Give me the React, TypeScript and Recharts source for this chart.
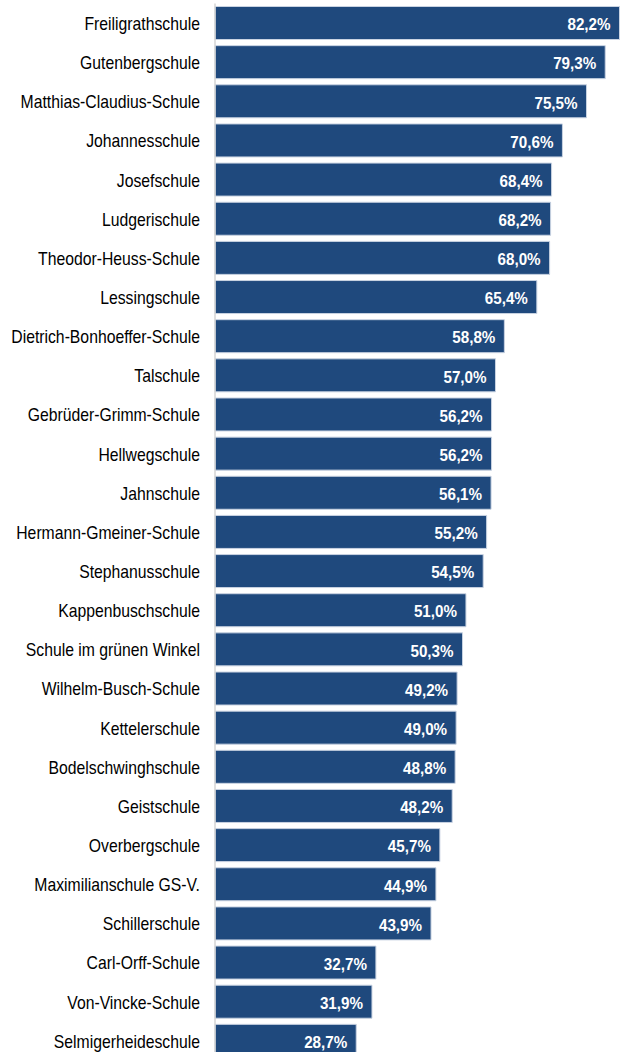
import React from 'react';
import { BarChart, Bar, XAxis, YAxis, LabelList } from 'recharts';

const schools = [
  'Freiligrathschule',
  'Gutenbergschule',
  'Matthias-Claudius-Schule',
  'Johannesschule',
  'Josefschule',
  'Ludgerischule',
  'Theodor-Heuss-Schule',
  'Lessingschule',
  'Dietrich-Bonhoeffer-Schule',
  'Talschule',
  'Gebrüder-Grimm-Schule',
  'Hellwegschule',
  'Jahnschule',
  'Hermann-Gmeiner-Schule',
  'Stephanusschule',
  'Kappenbuschschule',
  'Schule im grünen Winkel',
  'Wilhelm-Busch-Schule',
  'Kettelerschule',
  'Bodelschwinghschule',
  'Geistschule',
  'Overbergschule',
  'Maximilianschule GS-V.',
  'Schillerschule',
  'Carl-Orff-Schule ',
  'Von-Vincke-Schule',
  'Selmigerheideschule',
];

const shares = [
  82.2, 79.3, 75.5, 70.6, 68.4, 68.2, 68.0, 65.4, 58.8, 57.0, 56.2, 56.2, 56.1, 55.2,
  54.5, 51.0, 50.3, 49.2, 49.0, 48.8, 48.2, 45.7, 44.9, 43.9, 32.7, 31.9, 28.7,
];

const data = schools.map((name, i) => ({ name, value: shares[i] }));

const fmt = (v: number) => v.toFixed(1).replace('.', ',') + '%';

const CategoryTick = (props: any) => {
  const { x, y, payload } = props;
  return (
    <text
      x={0}
      y={0}
      transform={`translate(${x},${y + 1}) scale(0.875,1)`}
      textAnchor="end"
      dominantBaseline="central"
      fontSize={18}
      fontFamily="'Liberation Sans', Arial, sans-serif"
      fill="#000"
    >
      {payload.value}
    </text>
  );
};

const ValueLabel = (props: any) => {
  const { x, y, width, height, value } = props;
  return (
    <text
      x={0}
      y={0}
      transform={`translate(${x + width - 9},${y + height / 2 + 1.5}) scale(0.95,1.05)`}
      textAnchor="end"
      dominantBaseline="central"
      fontSize={16}
      fontWeight="bold"
      fontFamily="'Liberation Sans', Arial, sans-serif"
      fill="#ffffff"
    >
      {fmt(value)}
    </text>
  );
};

export default function App() {
  return (
    <div
      style={{
        position: 'absolute',
        left: 0,
        top: 0,
        width: 623,
        height: 1052,
        overflow: 'hidden',
        background: '#fff',
      }}
    >
      <BarChart
        width={623}
        height={1061}
        data={data}
        layout="vertical"
        margin={{ top: 3.5, right: 3.5, bottom: 0.5, left: 0 }}
      >
        <XAxis type="number" domain={[0, 'dataMax']} hide />
        <YAxis
          type="category"
          dataKey="name"
          width={215}
          tickLine={false}
          tickSize={0}
          tickMargin={15}
          axisLine={{ stroke: '#d4d4d4', strokeWidth: 1.5 }}
          tick={<CategoryTick />}
          interval={0}
        />
        <Bar
          dataKey="value"
          fill="#1F497D"
          stroke="#c9d3e2"
          strokeWidth={1}
          barSize={33}
          isAnimationActive={false}
        >
          <LabelList dataKey="value" content={<ValueLabel />} />
        </Bar>
      </BarChart>
    </div>
  );
}
